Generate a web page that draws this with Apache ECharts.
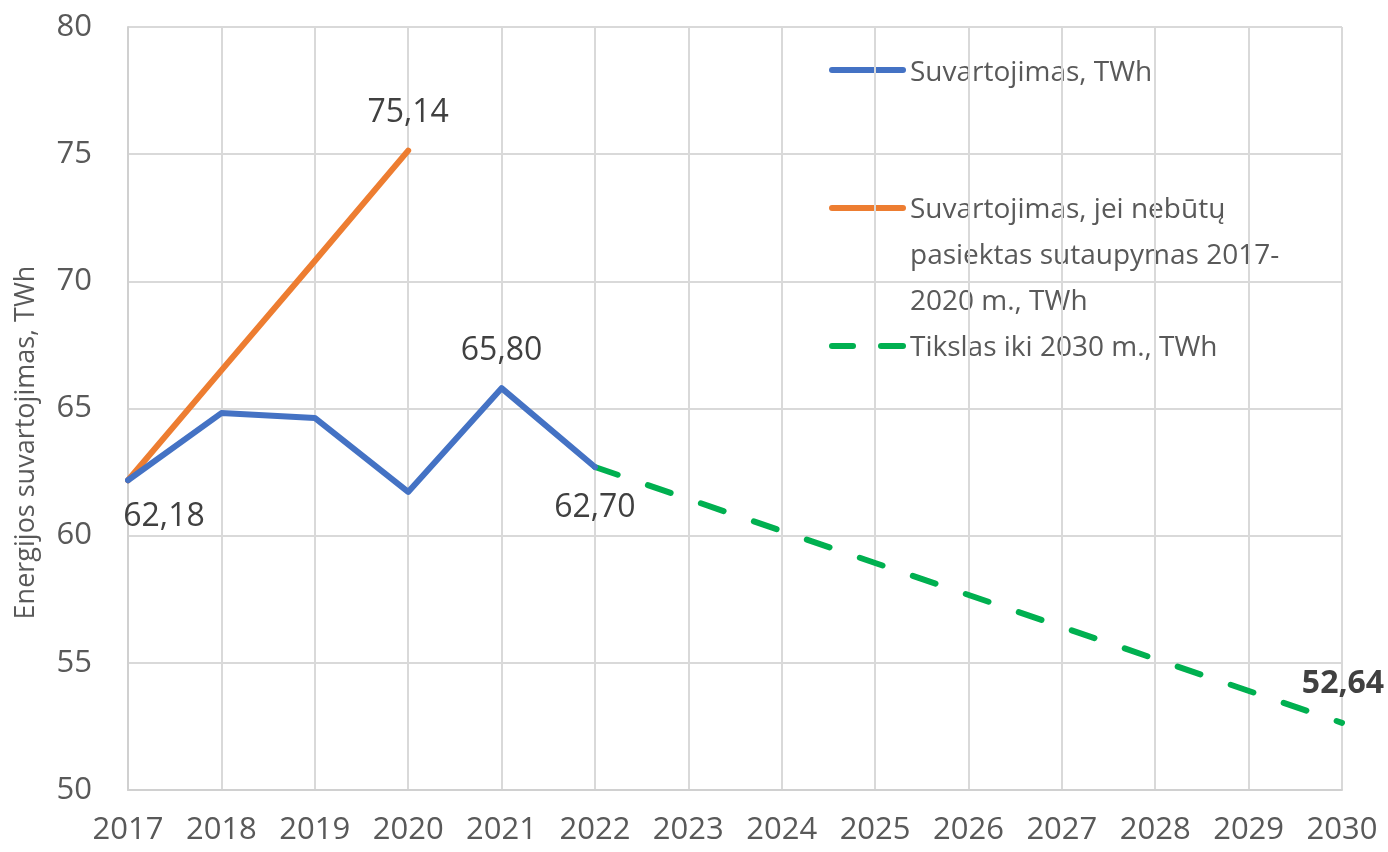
<!DOCTYPE html>
<html>
<head>
<meta charset="utf-8">
<script src="https://cdn.jsdelivr.net/npm/echarts@6/dist/echarts.min.js"></script>
<style>
html,body{margin:0;padding:0;background:#fff;}
#c{width:1388px;height:852px;}
</style>
</head>
<body>
<div id="c"></div>
<script>
const years = ['2017','2018','2019','2020','2021','2022','2023','2024','2025','2026','2027','2028','2029','2030'];
const consumption = [62.18, 64.82, 64.63, 61.72, 65.80, 62.70, null, null, null, null, null, null, null, null];
const noSavings = [62.18, 66.50, 70.80, 75.14, null, null, null, null, null, null, null, null, null, null];
const target = [null, null, null, null, null, 62.70, null, null, null, null, null, null, null, 52.64];
const seriesNames = ['Suvartojimas, TWh', 'Suvartojimas, jei nebūtų pasiektas sutaupymas 2017-2020 m., TWh', 'Tikslas iki 2030 m., TWh'];
const legendText = ['Suvartojimas, TWh', 'Suvartojimas, jei nebūtų\npasiektas sutaupymas 2017-\n2020 m., TWh', 'Tikslas iki 2030 m., TWh'];
const yAxisTitle = 'Energijos suvartojimas, TWh';

const FONT = '"Open Sans", sans-serif';
const fmt = v => v.toFixed(2).replace('.', ',');

function withLabels(arr, cfg) {
  return arr.map((v, i) => {
    if (v === null) return null;
    if (cfg[i]) return {value: v, label: Object.assign({show:true}, cfg[i])};
    return v;
  });
}

function makeSeries(name, values, color, lineExtra, labelCfg, z) {
  return {
    name: name, type:'line', z: z,
    symbol:'circle', symbolSize:2, showSymbol:true, showAllSymbol:true,
    connectNulls:true,
    lineStyle: Object.assign({color:color, width:6, cap:'round', join:'round'}, lineExtra),
    itemStyle:{color:'rgba(0,0,0,0)', borderWidth:0},
    label:{show:false, fontFamily:FONT, fontSize:32, color:'#404040',
           formatter: p => fmt(p.value)},
    emphasis:{disabled:true},
    data: withLabels(values, labelCfg)
  };
}

const chart = echarts.init(document.getElementById('c'), null, {renderer:'canvas'});
chart.setOption({
  animation:false,
  backgroundColor:'#ffffff',
  grid:{left:128, right:46, top:27, bottom:62, containLabel:false, outerBoundsMode:'none'},
  xAxis:{
    type:'category', data:years, boundaryGap:false,
    axisLine:{lineStyle:{color:'#d0d0d0', width:2}},
    axisTick:{show:false},
    axisLabel:{fontFamily:FONT, fontSize:31, color:'#595959', margin:25},
    splitLine:{show:true, lineStyle:{color:'#d9d9d9', width:2}}
  },
  yAxis:{
    type:'value', min:50, max:80, interval:5,
    name:yAxisTitle, nameLocation:'middle', nameGap:88,
    nameTextStyle:{fontFamily:FONT, fontSize:27, color:'#595959', padding:[0,68,0,0]},
    axisLine:{show:true, lineStyle:{color:'#d0d0d0', width:2}},
    axisTick:{show:false},
    axisLabel:{fontFamily:FONT, fontSize:31, color:'#595959', margin:36},
    splitLine:{show:true, lineStyle:{color:'#d9d9d9', width:2}}
  },
  series:[
    makeSeries(seriesNames[0], consumption, '#4472C4', {}, {
      0:{position:'bottom', distance:20, offset:[36,0]},
      4:{position:'top', distance:20},
      5:{position:'bottom', distance:24}
    }, 3),
    makeSeries(seriesNames[1], noSavings, '#ED7D31', {}, {
      3:{position:'top', distance:21}
    }, 2),
    makeSeries(seriesNames[2], target, '#00B050', {type:[24,32], join:'miter'}, {
      13:{position:'top', distance:22, fontWeight:'bold', offset:[1,0]}
    }, 2)
  ],
  graphic:[
    {type:'line', shape:{x1:832,y1:70,x2:903,y2:70}, style:{stroke:'#4472C4', lineWidth:6, lineCap:'round'}},
    {type:'text', left:910, top:50, style:{text:legendText[0], fontFamily:FONT, fontSize:28, fill:'#595959', lineHeight:46}},
    {type:'line', shape:{x1:832,y1:208,x2:903,y2:208}, style:{stroke:'#ED7D31', lineWidth:6, lineCap:'round'}},
    {type:'text', left:910, top:187, style:{text:legendText[1], fontFamily:FONT, fontSize:28, fill:'#595959', lineHeight:46}},
    {type:'line', shape:{x1:832,y1:346,x2:853,y2:346}, style:{stroke:'#00B050', lineWidth:6, lineCap:'round'}},
    {type:'line', shape:{x1:881,y1:346,x2:903,y2:346}, style:{stroke:'#00B050', lineWidth:6, lineCap:'round'}},
    {type:'text', left:910, top:325, style:{text:legendText[2], fontFamily:FONT, fontSize:28, fill:'#595959', lineHeight:46}}
  ]
});
</script>
</body>
</html>
